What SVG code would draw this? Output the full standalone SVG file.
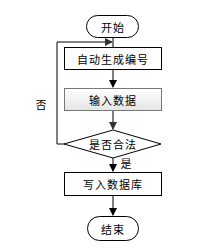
<svg xmlns="http://www.w3.org/2000/svg" width="221" height="251" viewBox="0 0 221 251">
<style>
.s{fill:#fff;stroke:#000;stroke-width:1}
.t{font-family:"Noto Sans CJK SC",sans-serif;font-size:11px;letter-spacing:1px;text-anchor:middle;dominant-baseline:central;fill:#000}
.c{fill:none;stroke:#000;stroke-width:1}
</style>
<defs>
<linearGradient id="g" x1="0" y1="0" x2="0" y2="1">
<stop offset="0" stop-color="#ffffff"/>
<stop offset="1" stop-color="#e4e4e4"/>
</linearGradient>
<marker id="a" markerWidth="8" markerHeight="8" refX="7" refY="4" orient="auto" markerUnits="userSpaceOnUse">
<path d="M0,0 L8,4 L0,8 Z" fill="#000"/>
</marker>
<marker id="b" markerWidth="8" markerHeight="8" refX="7" refY="4" orient="auto" markerUnits="userSpaceOnUse">
<path d="M0,0 L8,4 L0,8 Z" fill="#333"/>
</marker>
</defs>
<g id="connectors">
<path class="c" d="M113,37 V47"/>
<path class="c" d="M64,144 H57 V42 H112" marker-end="url(#b)"/>
<path class="c" d="M113,70 V87" marker-end="url(#a)"/>
<path class="c" d="M113,110 V129" marker-end="url(#b)"/>
<path class="c" d="M113,158 V171" marker-end="url(#a)"/>
<path class="c" d="M113,196 V215" marker-end="url(#a)"/>
</g>
<g id="start"><rect class="s" x="86.5" y="15.5" width="52" height="22" rx="11"/><text class="t" x="113" y="26.5">开始</text></g>
<g id="gen"><rect class="s" x="64.5" y="47.5" width="97" height="22"/><text class="t" x="113" y="59">自动生成编号</text></g>
<g id="input"><rect x="64.5" y="88.5" width="97" height="22" fill="url(#g)" stroke="#777"/><text class="t" x="113" y="100">输入数据</text></g>
<g id="check"><path class="s" d="M113,130 L161,144 L113,158 L64,144 Z"/><text class="t" x="113" y="144">是否合法</text></g>
<g id="write"><rect class="s" x="64.5" y="172.5" width="97" height="23"/><text class="t" x="113" y="184">写入数据库</text></g>
<g id="end"><rect class="s" x="87.5" y="216.5" width="51" height="24" rx="12"/><text class="t" x="113" y="228.5">结束</text></g>
<text class="t" x="41" y="104" style="letter-spacing:0">否</text>
<text class="t" x="126" y="163" style="letter-spacing:0">是</text>
</svg>
